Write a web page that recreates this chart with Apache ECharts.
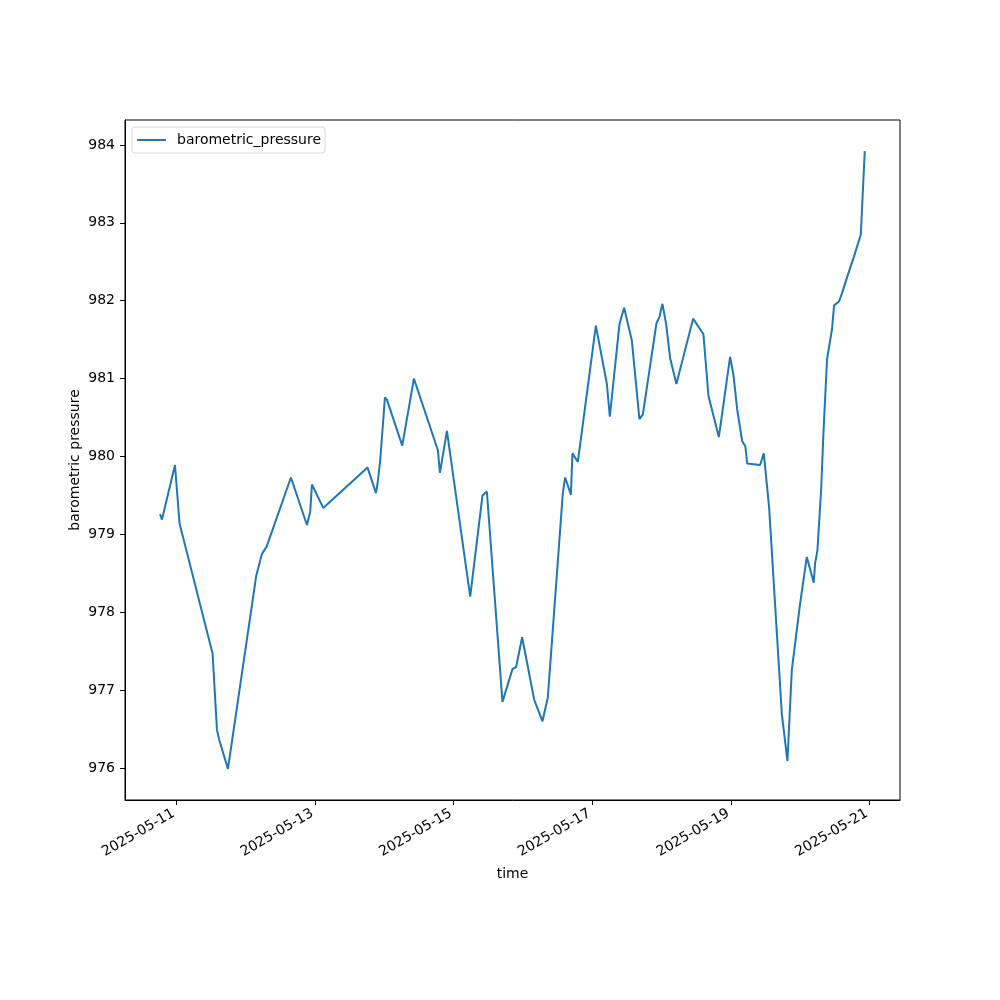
<!DOCTYPE html>
<html>
<head>
<meta charset="utf-8">
<script src="https://cdn.jsdelivr.net/npm/echarts@6/dist/echarts.min.js"></script>
<style>html,body{margin:0;padding:0;background:#fff;}#c{width:1000px;height:1000px;}</style>
</head>
<body>
<div id="c"></div>
<script>
const times = [
'2025-05-10 18:22','2025-05-10 19:03','2025-05-10 23:33','2025-05-11 01:08','2025-05-11 12:34',
'2025-05-11 14:05','2025-05-11 14:53','2025-05-11 17:53','2025-05-12 03:41','2025-05-12 05:40',
'2025-05-12 07:15','2025-05-12 15:41','2025-05-12 21:14','2025-05-12 22:22','2025-05-12 22:58',
'2025-05-13 02:52','2025-05-13 18:12','2025-05-13 21:07','2025-05-13 21:40','2025-05-13 22:36',
'2025-05-14 00:14','2025-05-14 00:55','2025-05-14 06:13','2025-05-14 10:16','2025-05-14 18:34',
'2025-05-14 19:16','2025-05-14 21:41','2025-05-15 05:45','2025-05-15 10:00','2025-05-15 11:31',
'2025-05-15 16:55','2025-05-15 20:23','2025-05-15 21:40','2025-05-15 23:44','2025-05-16 03:53',
'2025-05-16 06:46','2025-05-16 08:38','2025-05-16 13:50','2025-05-16 14:37','2025-05-16 16:36',
'2025-05-16 17:09','2025-05-16 19:01','2025-05-17 01:15','2025-05-17 03:20','2025-05-17 03:53',
'2025-05-17 05:04','2025-05-17 06:05','2025-05-17 09:25','2025-05-17 10:00','2025-05-17 11:02',
'2025-05-17 13:42','2025-05-17 16:20','2025-05-17 17:31','2025-05-17 22:13','2025-05-17 23:15',
'2025-05-18 00:18','2025-05-18 01:35','2025-05-18 02:58','2025-05-18 05:08','2025-05-18 10:55',
'2025-05-18 14:29','2025-05-18 16:13','2025-05-18 19:49','2025-05-18 23:43','2025-05-19 00:52',
'2025-05-19 02:09','2025-05-19 03:53','2025-05-19 05:01','2025-05-19 05:37','2025-05-19 10:07',
'2025-05-19 11:23','2025-05-19 13:13','2025-05-19 17:37','2025-05-19 19:34','2025-05-19 21:05',
'2025-05-19 23:57','2025-05-20 02:16','2025-05-20 04:41','2025-05-20 05:08','2025-05-20 05:56',
'2025-05-20 07:13','2025-05-20 08:01','2025-05-20 09:17','2025-05-20 11:01','2025-05-20 11:43',
'2025-05-20 13:26','2025-05-20 14:35','2025-05-20 16:07','2025-05-20 18:32','2025-05-20 20:58',
'2025-05-20 22:20'
];
const pressure = [
979.26,979.19,979.89,979.14,977.47,
976.49,976.36,975.99,978.47,978.75,
978.84,979.73,979.12,979.29,979.64,
979.34,979.86,979.53,979.65,979.95,
980.76,980.73,980.14,981.00,980.08,
979.79,980.33,978.20,979.50,979.55,
976.85,977.27,977.30,977.68,976.88,
976.60,976.91,979.54,979.73,979.51,
980.04,979.93,981.68,981.27,981.26,
980.93,980.51,981.70,981.70,981.91,
981.49,980.48,980.54,981.71,981.79,
981.96,981.70,981.26,980.93,981.77,
981.57,980.78,980.25,981.28,981.05,
980.61,980.20,980.13,979.91,979.89,
980.04,979.35,976.70,976.09,977.26,
978.11,978.71,978.38,978.63,978.79,
979.56,980.29,981.25,981.64,981.94,
981.99,982.11,982.29,982.56,982.85,
983.92
];
const xTickDates = ['2025-05-11','2025-05-13','2025-05-15','2025-05-17','2025-05-19','2025-05-21'];
const yTicks = [976,977,978,979,980,981,982,983,984];

function toTs(s){
  const [d,t] = s.split(' ');
  const [Y,M,D] = d.split('-').map(Number);
  const [h,m] = (t||'00:00').split(':').map(Number);
  return new Date(Y,M-1,D,h,m).getTime();
}
const pad = n => (n<10?'0':'')+n;
const fmt = v => { const d=new Date(v); return d.getFullYear()+'-'+pad(d.getMonth()+1)+'-'+pad(d.getDate()); };
const xTickVals = xTickDates.map(toTs);
const seriesData = times.map((t,i)=>[toTs(t), pressure[i]]);

const font = 'DejaVu Sans';
const chart = echarts.init(document.getElementById('c'));
chart.setOption({
  animation:false,
  backgroundColor:'#fff',
  grid:{left:125,right:100,top:120,bottom:200,show:true,borderColor:'#000',borderWidth:1,containLabel:false},
  legend:{
    left:132,top:127,orient:'vertical',
    data:[{name:'barometric_pressure',icon:'rect'}],
    itemWidth:29,itemHeight:2,itemGap:0,
    padding:[6,4,6,5],
    backgroundColor:'#fff',borderColor:'#d6d6d6',borderWidth:1,borderRadius:3,
    textStyle:{fontFamily:font,fontSize:14,color:'#000',padding:[0,0,0,6]}
  },
  xAxis:{
    type:'value',scale:true,
    min:toTs('2025-05-10 06:15'),max:toTs('2025-05-21 10:32'),
    name:'time',nameLocation:'middle',nameGap:67,nameMoveOverlap:false,
    nameTextStyle:{fontFamily:font,fontSize:14,color:'#000'},
    axisLine:{show:true,onZero:false,lineStyle:{color:'#000',width:1}},
    axisTick:{show:true,length:5,lineStyle:{color:'#000'},customValues:xTickVals},
    axisLabel:{show:true,rotate:30,margin:11,padding:[0,3,0,0],fontFamily:font,fontSize:14,color:'#000',
      customValues:xTickVals,formatter:v=>fmt(v)},
    splitLine:{show:false},minorTick:{show:false}
  },
  yAxis:{
    type:'value',scale:true,min:975.59,max:984.32,
    name:'barometric pressure',nameLocation:'middle',nameGap:43,nameRotate:90,nameMoveOverlap:false,
    nameTextStyle:{fontFamily:font,fontSize:14,color:'#000'},
    axisLine:{show:true,onZero:false,lineStyle:{color:'#000',width:1}},
    axisTick:{show:true,length:5,lineStyle:{color:'#000'},customValues:yTicks},
    axisLabel:{show:true,margin:10,fontFamily:font,fontSize:14,color:'#000',customValues:yTicks,formatter:v=>String(Math.round(v))},
    splitLine:{show:false}
  },
  series:[{
    name:'barometric_pressure',type:'line',data:seriesData,
    showSymbol:false,symbol:'none',
    lineStyle:{color:'#1f77b4',width:2},itemStyle:{color:'#1f77b4'},
    clip:true
  }]
});
</script>
</body>
</html>
